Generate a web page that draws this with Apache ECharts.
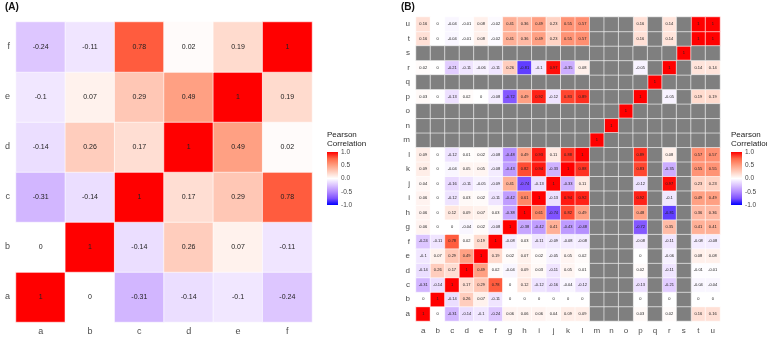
<!DOCTYPE html>
<html><head><meta charset="utf-8">
<script src="https://cdn.jsdelivr.net/npm/echarts@6/dist/echarts.min.js"></script>
<style>html,body{margin:0;padding:0;background:#fff}#c{width:767px;height:338px}</style>
</head><body><div id="c"></div>
<script>
const N = null;
const varsA = ['a','b','c','d','e','f'];
const matA = [
  [1, 0, -0.31, -0.14, -0.1, -0.24],
  [0, 1, -0.14, 0.26, 0.07, -0.11],
  [-0.31, -0.14, 1, 0.17, 0.29, 0.78],
  [-0.14, 0.26, 0.17, 1, 0.49, 0.02],
  [-0.1, 0.07, 0.29, 0.49, 1, 0.19],
  [-0.24, -0.11, 0.78, 0.02, 0.19, 1]
];
const varsB = ['a','b','c','d','e','f','g','h','i','j','k','l','m','n','o','p','q','r','s','t','u'];
const matB = [
  [1, 0, -0.31, -0.14, -0.1, -0.24, 0.06, 0.06, 0.06, 0.04, 0.09, 0.09, N,N,N, 0.03, N, 0.02, N, 0.16, 0.16],
  [0, 1, -0.14, 0.26, 0.07, -0.11, 0, 0, 0, 0, 0, 0, N,N,N, 0, N, 0, N, 0, 0],
  [-0.31, -0.14, 1, 0.17, 0.29, 0.78, 0, 0.12, -0.12, -0.16, -0.04, -0.12, N,N,N, -0.13, N, -0.21, N, -0.04, -0.04],
  [-0.14, 0.26, 0.17, 1, 0.49, 0.02, -0.04, 0.09, 0.03, -0.11, 0.05, 0.01, N,N,N, 0.02, N, -0.11, N, -0.01, -0.01],
  [-0.1, 0.07, 0.29, 0.49, 1, 0.19, 0.02, 0.07, 0.02, -0.05, 0.05, 0.02, N,N,N, 0, N, -0.06, N, 0.08, 0.08],
  [-0.24, -0.11, 0.78, 0.02, 0.19, 1, -0.08, 0.03, -0.11, -0.09, -0.08, -0.08, N,N,N, -0.08, N, -0.11, N, -0.08, -0.08],
  [0.06, 0, 0, -0.04, 0.02, -0.08, 1, -0.38, -0.42, 0.41, -0.43, -0.48, N,N,N, -0.72, N, 0.35, N, 0.41, 0.41],
  [0.06, 0, 0.12, 0.09, 0.07, 0.03, -0.38, 1, 0.61, -0.74, 0.82, 0.49, N,N,N, 0.48, N, -0.81, N, 0.36, 0.36],
  [0.06, 0, -0.12, 0.03, 0.02, -0.11, -0.42, 0.61, 1, -0.13, 0.94, 0.92, N,N,N, 0.92, N, -0.1, N, 0.49, 0.49],
  [0.04, 0, -0.16, -0.11, -0.05, -0.09, 0.41, -0.74, -0.13, 1, -0.33, 0.11, N,N,N, -0.12, N, 0.97, N, 0.23, 0.23],
  [0.09, 0, -0.04, 0.05, 0.05, -0.08, -0.43, 0.82, 0.94, -0.33, 1, 0.88, N,N,N, 0.83, N, -0.35, N, 0.55, 0.55],
  [0.09, 0, -0.12, 0.01, 0.02, -0.08, -0.48, 0.49, 0.93, 0.11, 0.88, 1, N,N,N, 0.89, N, 0.08, N, 0.57, 0.57],
  [N,N,N,N,N,N,N,N,N,N,N,N, 1, N,N,N,N,N,N,N,N],
  [N,N,N,N,N,N,N,N,N,N,N,N, N, 1, N,N,N,N,N,N,N],
  [N,N,N,N,N,N,N,N,N,N,N,N, N, N, 1, N,N,N,N,N,N],
  [0.03, 0, -0.13, 0.02, 0, -0.08, -0.72, 0.49, 0.92, -0.12, 0.83, 0.89, N,N,N, 1, N, -0.05, N, 0.19, 0.19],
  [N,N,N,N,N,N,N,N,N,N,N,N, N,N,N, N, 1, N,N,N,N],
  [0.02, 0, -0.21, -0.11, -0.06, -0.11, 0.26, -0.81, -0.1, 0.97, -0.35, 0.08, N,N,N, -0.05, N, 1, N, 0.14, 0.14],
  [N,N,N,N,N,N,N,N,N,N,N,N, N,N,N, N,N,N, 1, N,N],
  [0.16, 0, -0.04, -0.01, 0.08, -0.02, 0.41, 0.36, 0.49, 0.23, 0.55, 0.57, N,N,N, 0.16, N, 0.14, N, 1, 1],
  [0.16, 0, -0.04, -0.01, 0.08, -0.02, 0.41, 0.36, 0.49, 0.23, 0.55, 0.57, N,N,N, 0.16, N, 0.14, N, 1, 1]
];
const legendTicks = ['1.0', '0.5', '0.0', '-0.5', '-1.0'];
const legendTitle = 'Pearson\nCorrelation';

const scaleColors = ['#0000FF','#7E51FF','#B38BFF','#DCC4FF','#FFFFFF','#FFCFBF','#FF9E81','#FF6947','#FF0000'];
const FONT = '"Liberation Sans", Arial, sans-serif';

function cells(mat, wantNA) {
  const out = [];
  for (let r = 0; r < mat.length; r++)
    for (let c = 0; c < mat[r].length; c++) {
      const v = mat[r][c];
      if (wantNA ? v === null : v !== null) out.push([c, r, wantNA ? 0 : v]);
    }
  return out;
}

function legend(x, y) {
  const items = [];
  items.push({type:'text', left:x, top:y, style:{text:legendTitle, font:'8px '+FONT, fill:'#222', lineHeight:9}});
  const stops = scaleColors.slice().reverse().map((c,i)=>({offset:i/(scaleColors.length-1), color:c}));
  const by = y + 22;
  items.push({type:'rect', shape:{x:x, y:by, width:11, height:53},
    style:{fill:new echarts.graphic.LinearGradient(0,0,0,1,stops)}});
  legendTicks.forEach((t,i)=>{
    items.push({type:'text', x:x+14, y:by+i*53/4, style:{text:t, font:'6.5px '+FONT, fill:'#444', verticalAlign:'middle'}});
  });
  return items;
}

const chart = echarts.init(document.getElementById('c'), null, {renderer:'canvas'});
const axisCommon = {type:'category', axisLine:{show:false}, axisTick:{show:false}, splitLine:{show:false}};
chart.setOption({
  animation:false,
  backgroundColor:'#fff',
  grid:[
    {left:16, top:22, width:296, height:300},
    {left:416, top:17, width:304, height:304}
  ],
  xAxis:[
    Object.assign({}, axisCommon, {gridIndex:0, data:varsA, axisLabel:{color:'#4D4D4D', fontSize:9, margin:5, fontFamily:FONT}}),
    Object.assign({}, axisCommon, {gridIndex:1, data:varsB, axisLabel:{color:'#4D4D4D', fontSize:8, margin:6, fontFamily:FONT}})
  ],
  yAxis:[
    Object.assign({}, axisCommon, {gridIndex:0, data:varsA, axisLabel:{color:'#4D4D4D', fontSize:9, margin:6, fontFamily:FONT}}),
    Object.assign({}, axisCommon, {gridIndex:1, data:varsB, axisLabel:{color:'#4D4D4D', fontSize:8, margin:6, fontFamily:FONT}})
  ],
  visualMap:{type:'continuous', show:false, min:-1, max:1, seriesIndex:[0,1], inRange:{color:scaleColors}},
  series:[
    {type:'heatmap', xAxisIndex:0, yAxisIndex:0, data:cells(matA,false),
     itemStyle:{borderColor:'#fff', borderWidth:0.6},
     label:{show:true, fontSize:7, color:'#222', fontFamily:FONT, formatter:p=>String(p.value[2])}},
    {type:'heatmap', xAxisIndex:1, yAxisIndex:1, data:cells(matB,false),
     itemStyle:{borderColor:'#fff', borderWidth:0.6},
     label:{show:true, fontSize:4, color:'#222', fontFamily:FONT, formatter:p=>String(p.value[2])}},
    {type:'heatmap', xAxisIndex:1, yAxisIndex:1, data:cells(matB,true),
     itemStyle:{color:'#7F7F7F', borderColor:'#fff', borderWidth:0.6}, label:{show:false}}
  ],
  graphic:[
    {type:'text', left:5, top:2, style:{text:'(A)', font:'bold 10px '+FONT, fill:'#111'}},
    {type:'text', left:401, top:2, style:{text:'(B)', font:'bold 10px '+FONT, fill:'#111'}}
  ].concat(legend(327, 130)).concat(legend(731, 130))
});
</script></body></html>
